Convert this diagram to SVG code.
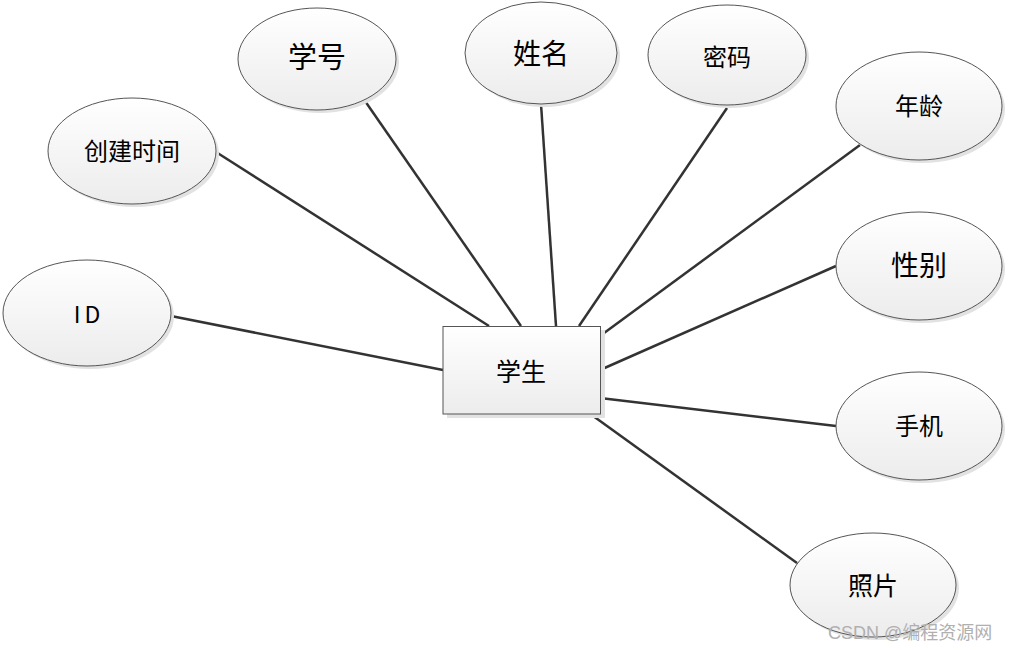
<svg xmlns="http://www.w3.org/2000/svg" width="1012" height="650" viewBox="0 0 1012 650">
<defs>
<linearGradient id="g" x1="0" y1="0" x2="0" y2="1">
<stop offset="0" stop-color="#ffffff"/>
<stop offset="1" stop-color="#ececec"/>
</linearGradient>
<style>
.e{fill:url(#g);stroke:#555;stroke-width:1}
.s{fill:#e2e2e2}
.t{font-family:"Noto Sans CJK SC","Liberation Sans",sans-serif;fill:#000;text-anchor:middle;dominant-baseline:central}
.c line{stroke:#333;stroke-width:2.5}
.w{font-family:"Liberation Sans","Noto Sans CJK SC",sans-serif;fill:#b0b0b0;font-size:18px}
</style>
</defs>
<rect width="1012" height="650" fill="#fff"/>
<g class="c">
<line x1="216" y1="152" x2="489" y2="326"/>
<line x1="365" y1="101" x2="521" y2="326"/>
<line x1="541" y1="104" x2="556" y2="326"/>
<line x1="727" y1="108" x2="579" y2="326"/>
<line x1="860" y1="145" x2="600" y2="336"/>
<line x1="836" y1="266" x2="600" y2="370"/>
<line x1="836" y1="426" x2="600" y2="398"/>
<line x1="797" y1="563" x2="589" y2="413"/>
<line x1="171" y1="316" x2="443" y2="370"/>
</g>
<g id="student">
<rect class="s" x="447" y="330" width="158" height="88"/>
<rect class="e" x="443" y="326.5" width="157.5" height="87.5"/>
<text class="t" x="521" y="370" font-size="25">学生</text>
</g>
<g id="xuehao">
<ellipse class="s" cx="320" cy="62" rx="79" ry="51"/>
<ellipse class="e" cx="317" cy="59" rx="79" ry="51"/>
<text class="t" x="317" y="55" font-size="29">学号</text>
</g>
<g id="xingming">
<ellipse class="s" cx="544" cy="56" rx="76" ry="51"/>
<ellipse class="e" cx="541" cy="53" rx="76" ry="51"/>
<text class="t" x="541" y="52" font-size="28">姓名</text>
</g>
<g id="mima">
<ellipse class="s" cx="730" cy="58" rx="79" ry="50"/>
<ellipse class="e" cx="727" cy="55" rx="79" ry="50"/>
<text class="t" x="727" y="55" font-size="24">密码</text>
</g>
<g id="nianling">
<ellipse class="s" cx="922" cy="109" rx="83" ry="54"/>
<ellipse class="e" cx="919" cy="106" rx="83" ry="54"/>
<text class="t" x="919" y="104" font-size="24">年龄</text>
</g>
<g id="xingbie">
<ellipse class="s" cx="922" cy="269" rx="83" ry="54"/>
<ellipse class="e" cx="919" cy="266" rx="83" ry="54"/>
<text class="t" x="919" y="264" font-size="28">性别</text>
</g>
<g id="shouji">
<ellipse class="s" cx="922" cy="429" rx="83" ry="54"/>
<ellipse class="e" cx="919" cy="426" rx="83" ry="54"/>
<text class="t" x="919" y="424" font-size="24">手机</text>
</g>
<g id="zhaopian">
<ellipse class="s" cx="876" cy="588" rx="83" ry="52"/>
<ellipse class="e" cx="873" cy="585" rx="83" ry="52"/>
<text class="t" x="873" y="584" font-size="25">照片</text>
</g>
<g id="chuangjianshijian">
<ellipse class="s" cx="135" cy="154" rx="84" ry="53"/>
<ellipse class="e" cx="132" cy="151" rx="84" ry="53"/>
<text class="t" x="132" y="149" font-size="24">创建时间</text>
</g>
<g id="id">
<ellipse class="s" cx="90" cy="316" rx="84" ry="53"/>
<ellipse class="e" cx="87" cy="313" rx="84" ry="53"/>
<text class="t" x="89" y="313" font-size="23" letter-spacing="4">ID</text>
</g>
<text class="w" x="828" y="639">CSDN @编程资源网</text>
</svg>
